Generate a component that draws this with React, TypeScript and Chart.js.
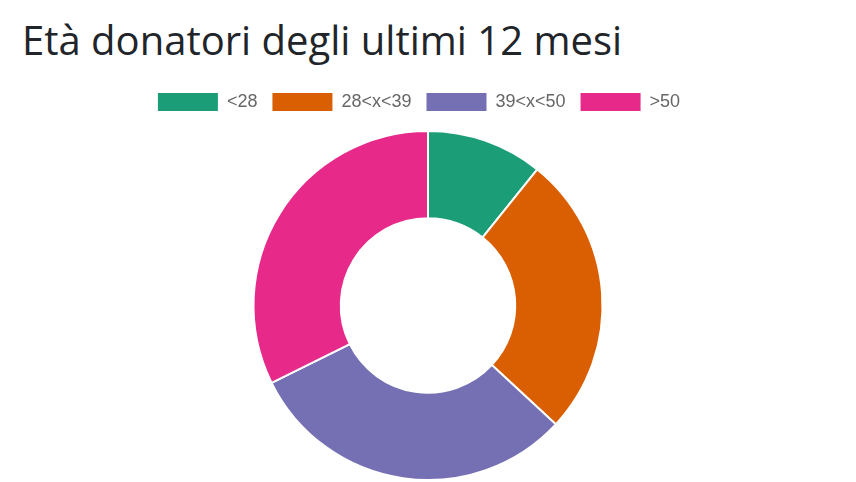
import React, { useEffect, useRef } from "react";
import { Chart, registerables } from "chart.js";

Chart.register(...registerables);

const title = "Età donatori degli ultimi 12 mesi";
const labels = ["<28", "28<x<39", "39<x<50", ">50"];
const values = [7, 17, 20, 21];
const colors = ["#1b9e77", "#d95f02", "#7570b3", "#e7298a"];

const legendSpacer = {
  id: "legendSpacer",
  beforeInit(chart: any) {
    const legend = chart.legend;
    if (!legend) return;
    const origFit = legend.fit;
    legend.fit = function () {
      origFit.call(this);
      this.height += 9;
      if (this.lineWidths && this.lineWidths.length) this.lineWidths[0] += 18;
    };
  },
};

export default function App() {
  const ref = useRef<HTMLCanvasElement | null>(null);
  useEffect(() => {
    if (!ref.current) return;
    const chart = new Chart(ref.current, {
      type: "doughnut",
      data: {
        labels,
        datasets: [
          {
            data: values,
            backgroundColor: colors,
            borderColor: "#ffffff",
            borderWidth: 2,
          },
        ],
      },
      plugins: [legendSpacer],
      options: {
        animation: false,
        responsive: true,
        maintainAspectRatio: false,
        cutout: "50%",
        plugins: {
          legend: {
            position: "top",
            labels: {
              boxWidth: 60,
              boxHeight: 18,
              padding: 15,
              color: "#666",
              font: { size: 18, family: "'Liberation Sans', Arial, sans-serif" },
              generateLabels: (c: any) =>
                (Chart as any).overrides.doughnut.plugins.legend.labels
                  .generateLabels(c)
                  .map((l: any) => ({ ...l, lineWidth: 0 })),
            },
          },
          tooltip: { enabled: false },
        },
      },
    });
    return () => chart.destroy();
  }, []);
  return (
    <div style={{ position: "relative", width: 840 }}>
      <div style={{ position: "relative", height: 70 }}>
        <div
          style={{
            position: "absolute",
            left: 14,
            top: 12,
            fontFamily: "'Open Sans', 'Noto Sans', sans-serif",
            fontSize: 40,
            lineHeight: "40px",
            color: "#212529",
            whiteSpace: "nowrap",
          }}
        >
          {title}
        </div>
      </div>
      <div style={{ position: "relative", width: 840, height: 403 }}>
        <canvas ref={ref} />
      </div>
    </div>
  );
}
